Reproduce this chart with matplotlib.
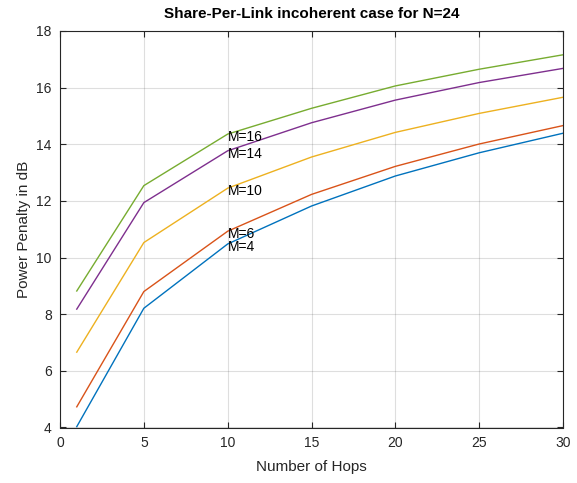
import matplotlib
matplotlib.use("Agg")
import matplotlib.pyplot as plt

hops = [1, 5, 10, 15, 20, 25, 30]
m4 = [4.03, 8.21, 10.48, 11.82, 12.88, 13.70, 14.39]
m6 = [4.73, 8.80, 10.93, 12.23, 13.22, 14.01, 14.66]
m10 = [6.66, 10.53, 12.45, 13.55, 14.42, 15.09, 15.66]
m14 = [8.18, 11.94, 13.77, 14.76, 15.56, 16.18, 16.68]
m16 = [8.82, 12.54, 14.36, 15.27, 16.06, 16.65, 17.16]
series = [("M=4", m4, "#0072BD"), ("M=6", m6, "#D95319"), ("M=10", m10, "#EDB120"),
          ("M=14", m14, "#7E2F8E"), ("M=16", m16, "#77AC30")]
label_x = 10
title = "Share-Per-Link incoherent case for N=24"
xlabel = "Number of Hops"
ylabel = "Power Penalty in dB"

plt.rcParams['font.family'] = ['Liberation Sans', 'DejaVu Sans']
fig = plt.figure(figsize=(5.77, 4.83), dpi=100)
ax = fig.add_axes([60/577, 1-427.5/483, 503/577, 396.5/483])

for name, vals, col in series:
    ax.plot(hops, vals, color=col, lw=1.0)
    yv = vals[hops.index(label_x)]
    ax.annotate(name, (label_x, yv), xytext=(0, -2), textcoords='offset points',
                ha='left', va='center', fontsize=10, color='black')

ax.set_xlim(0, 30)
ax.set_ylim(4, 18)
ax.set_xticks(range(0, 31, 5))
ax.set_yticks(range(4, 19, 2))
ax.grid(True, color='#262626', alpha=0.15, lw=0.8)
ax.tick_params(direction='in', top=True, right=True, labelsize=10, colors='#262626', length=4, pad=6)
for s in ax.spines.values():
    s.set_color('#262626')
    s.set_linewidth(0.8)
ax.set_title(title, fontsize=11, fontweight='bold', pad=9)
ax.set_xlabel(xlabel, fontsize=11, color='#262626', labelpad=7)
ax.set_ylabel(ylabel, fontsize=11, color='#262626', labelpad=4)
fig.savefig("out.png", dpi=100)
